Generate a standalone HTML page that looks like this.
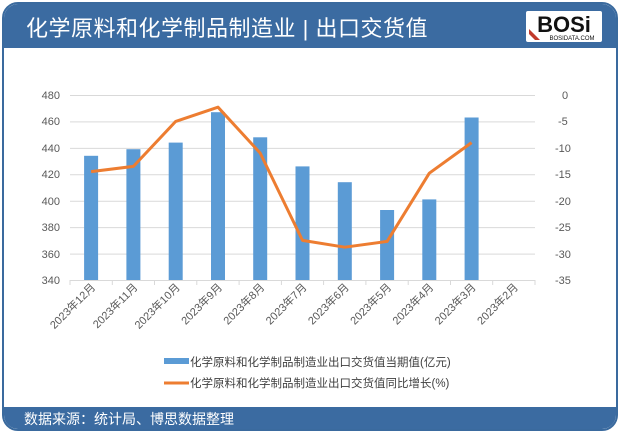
<!DOCTYPE html>
<html><head><meta charset="utf-8"><style>
html,body{margin:0;padding:0;background:#fff;}
body{width:620px;height:433px;overflow:hidden;position:relative;font-family:"Liberation Sans","Noto Sans CJK SC",sans-serif;}
.frame{position:absolute;left:2px;top:2px;width:612px;height:425px;border:2px solid #3a6a9e;border-radius:16px;overflow:hidden;background:#fff;}
.hdr{position:absolute;left:0;top:0;width:100%;height:44px;background:#3b6ba1;}
.hdr .t{position:absolute;left:22px;top:7px;color:#fff;font-size:22px;letter-spacing:0.5px;}
.logo{position:absolute;right:14px;top:7px;width:76px;height:31px;background:#fff;border-radius:2px;}
.ftr{position:absolute;left:0;bottom:0;width:100%;height:22px;background:#3b6ba1;}
.ftr .t{position:absolute;left:20px;top:2px;color:#fff;font-size:14px;}
</style></head><body>
<div class="frame">
<div class="hdr"><div class="t">化学原料和化学制品制造业 | 出口交货值</div>
<div class="logo"><svg width="76" height="31"><text x="38" y="21" text-anchor="middle" font-family="Liberation Sans" font-weight="bold" font-size="22" fill="#111">BOSi</text><text x="46" y="29" text-anchor="middle" font-size="6" fill="#111">BOSIDATA.COM</text><path d="M3 18 L14 29 L9 29 L3 23Z" fill="#c0392b"/></svg></div></div>
<div class="ftr"><div class="t">数据来源：统计局、博思数据整理</div></div>
</div>
<svg width="620" height="433" style="position:absolute;left:0;top:0" font-family="Liberation Sans, Noto Sans CJK SC, sans-serif">
<g stroke="#d9d9d9" stroke-width="1">
<line x1="70" y1="95.5" x2="535" y2="95.5"/><line x1="70" y1="121.9" x2="535" y2="121.9"/><line x1="70" y1="148.4" x2="535" y2="148.4"/><line x1="70" y1="174.8" x2="535" y2="174.8"/><line x1="70" y1="201.2" x2="535" y2="201.2"/><line x1="70" y1="227.6" x2="535" y2="227.6"/><line x1="70" y1="254.1" x2="535" y2="254.1"/><line x1="70" y1="280.5" x2="535" y2="280.5"/>
<line x1="70" y1="280" x2="70" y2="285"/><line x1="112.3" y1="280" x2="112.3" y2="285"/><line x1="154.5" y1="280" x2="154.5" y2="285"/><line x1="196.8" y1="280" x2="196.8" y2="285"/><line x1="239.1" y1="280" x2="239.1" y2="285"/><line x1="281.4" y1="280" x2="281.4" y2="285"/><line x1="323.6" y1="280" x2="323.6" y2="285"/><line x1="365.9" y1="280" x2="365.9" y2="285"/><line x1="408.2" y1="280" x2="408.2" y2="285"/><line x1="450.5" y1="280" x2="450.5" y2="285"/><line x1="492.7" y1="280" x2="492.7" y2="285"/><line x1="535" y1="280" x2="535" y2="285"/>
</g>
<g font-size="11" fill="#595959" text-anchor="end">
<text x="60" y="99">480</text><text x="60" y="125">460</text><text x="60" y="152">440</text><text x="60" y="178">420</text><text x="60" y="205">400</text><text x="60" y="231">380</text><text x="60" y="258">360</text><text x="60" y="284">340</text>
</g>
<g font-size="11" fill="#595959" text-anchor="start">
<text x="562" y="99">0</text><text x="558" y="125">-5</text><text x="555" y="152">-10</text><text x="555" y="178">-15</text><text x="555" y="205">-20</text><text x="555" y="231">-25</text><text x="555" y="258">-30</text><text x="555" y="284">-35</text>
</g>
<g fill="#5b9bd5">
<rect x="84.1" y="155.8" width="14" height="124.2"/><rect x="126.4" y="149.2" width="14" height="130.8"/><rect x="168.7" y="142.6" width="14" height="137.4"/><rect x="211" y="112.2" width="14" height="167.8"/><rect x="253.2" y="137.3" width="14" height="142.7"/><rect x="295.5" y="166.4" width="14" height="113.6"/><rect x="337.8" y="182.2" width="14" height="97.8"/><rect x="380.1" y="210" width="14" height="70"/><rect x="422.3" y="199.4" width="14" height="80.6"/><rect x="464.6" y="117.5" width="14" height="162.5"/>
</g>
<polyline fill="none" stroke="#ed7d31" stroke-width="3" stroke-linejoin="round" points="91.1,171.6 133.4,166.4 175.7,121.4 218,107.2 260.2,153.1 302.5,240.4 344.8,247.2 387.1,241.4 429.3,173.2 471.6,142.6"/>
<g font-size="11" fill="#595959" text-anchor="end">
<text transform="translate(96,288) rotate(-45)">2023年12月</text>
<text transform="translate(138.3,288) rotate(-45)">2023年11月</text>
<text transform="translate(180.6,288) rotate(-45)">2023年10月</text>
<text transform="translate(222.9,288) rotate(-45)">2023年9月</text>
<text transform="translate(265.1,288) rotate(-45)">2023年8月</text>
<text transform="translate(307.4,288) rotate(-45)">2023年7月</text>
<text transform="translate(349.7,288) rotate(-45)">2023年6月</text>
<text transform="translate(392,288) rotate(-45)">2023年5月</text>
<text transform="translate(434.2,288) rotate(-45)">2023年4月</text>
<text transform="translate(476.5,288) rotate(-45)">2023年3月</text>
<text transform="translate(518.8,288) rotate(-45)">2023年2月</text>
</g>
<rect x="164" y="358" width="25" height="6" fill="#5b9bd5"/>
<line x1="164" y1="383" x2="189" y2="383" stroke="#ed7d31" stroke-width="3"/>
<g font-size="11.5" fill="#404040">
<text x="190" y="366">化学原料和化学制品制造业出口交货值当期值(亿元)</text>
<text x="190" y="387">化学原料和化学制品制造业出口交货值同比增长(%)</text>
</g>
</svg>
</body></html>
